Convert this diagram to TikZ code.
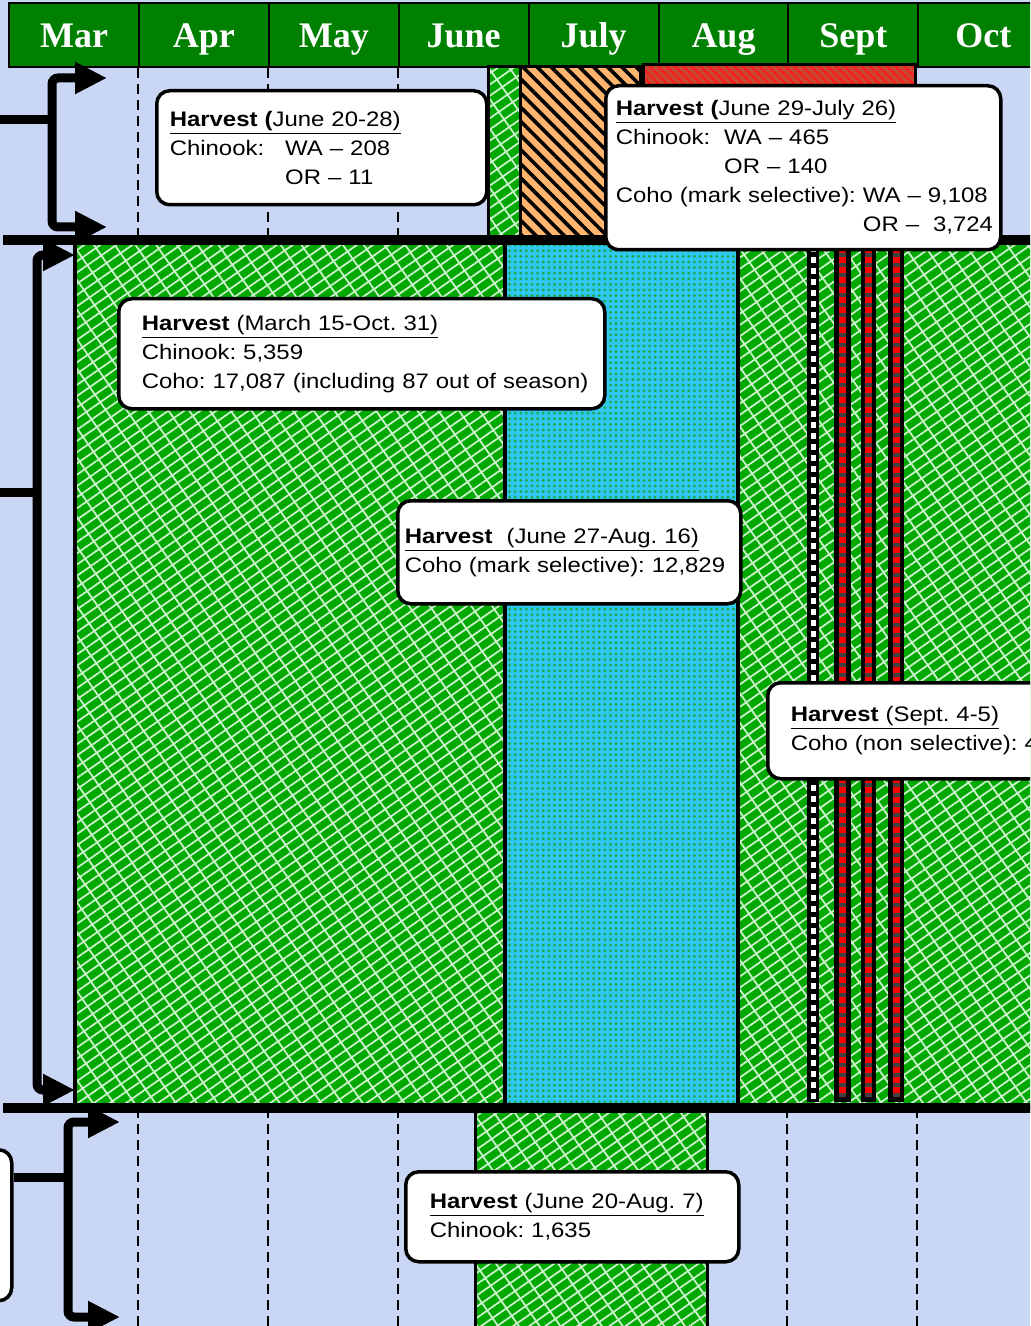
\documentclass[tikz,border=0pt]{standalone}
\usepackage{fontspec}
\setmainfont{Liberation Sans}[FakeStretch=1.14]
\newfontfamily\monthfont{Liberation Serif}
\usepackage{tikz}
\usetikzlibrary{arrows.meta,positioning,patterns.meta}
\definecolor{bgsky}{HTML}{C9D6F4}
\definecolor{hdrgreen}{HTML}{008000}
\definecolor{hgreen}{HTML}{00A800}
\definecolor{hgreenlt}{HTML}{CCF2CC}
\definecolor{hcyan}{HTML}{2EC8F2}
\definecolor{hcyandot}{HTML}{1FA84A}
\definecolor{horange}{HTML}{FFB56E}
\definecolor{hred}{HTML}{C84632}
\definecolor{hredln}{HTML}{FF1A1A}
\definecolor{hgrey}{HTML}{404040}
\newcommand{\boxfont}{\fontsize{10.5}{14.5}\selectfont\frenchspacing}
\newcommand{\hdrfont}{\monthfont\bfseries\fontsize{18}{20}\selectfont}
\newcommand{\harvline}[2]{\underline{\textbf{#1}#2}}   % #1 = bold part, #2 = dates
\tikzset{
  monthcell/.style  = {draw=black, line width=1pt, fill=hdrgreen, text=white,
                       font=\hdrfont, minimum width=64.95pt, minimum height=32pt,
                       inner sep=0pt, text height=13pt, text depth=0pt},
  gridln/.style     = {draw=black, line width=1pt, dash pattern=on 5pt off 3pt},
  hatchgreen/.style = {fill=hgreen,
                       postaction={pattern={Lines[angle=35, distance=4.6pt, line width=0.9pt]},
                                   pattern color=hgreenlt},
                       postaction={pattern={Lines[angle=-55, distance=8.5pt, line width=0.9pt]},
                                   pattern color=hgreenlt}},
  dotcyan/.style    = {fill=hcyan,
                       postaction={pattern={Dots[distance=2.8pt, radius=0.8pt]},
                                   pattern color=hcyandot}},
  stripeorange/.style = {fill=horange,
                       postaction={pattern={Lines[angle=-45, distance=5pt, line width=1.8pt]},
                                   pattern color=black}},
  stripered/.style  = {fill=hred,
                       postaction={pattern={Lines[angle=-45, distance=3pt, line width=1pt]},
                                   pattern color=hredln}},
  barout/.style     = {postaction={draw=black, line width=#1}},
  barout/.default   = 1.5pt,
  divline/.style    = {draw=black, line width=4.75pt},
  brk/.style        = {draw=black, line width=4.5pt, rounded corners=3pt},
  brkarr/.style     = {brk, {Triangle[length=16pt, width=15pt]}-{Triangle[length=16pt, width=15pt]}},
  hbox/.style       = {draw=black, line width=1.75pt, rounded corners=6.5pt, fill=white,
                       anchor=north west, align=left, inner ysep=0pt, font=\boxfont},
}

\begin{document}
\begin{tikzpicture}[x=0.5pt,y=-0.5pt]
  \useasboundingbox (0,0) rectangle (1030,1326);
  \clip (0,0) rectangle (1030,1326);
  \fill[bgsky] (0,0) rectangle (1030,1326);
  \coordinate (div1) at (3,240);
  \coordinate (div2) at (3,1108);
  \coordinate (foot) at (3,1326);
  % month header
  \foreach \m [count=\i from 0] in {Mar,Apr,May,June,July,Aug,Sept,Oct}
    \node[monthcell] (m\i) at ({74+129.9*\i},35) {\m};
  \foreach \i in {1,2,3}
    \draw[gridln] (m\i.south west) -- (m\i.south west |- div1);
  \foreach \i in {1,...,7}
    \draw[gridln] (m\i.south west |- div2) -- (m\i.south west |- foot);
  % row 1
  \path[hatchgreen, barout]   (488,67) rectangle (520,240);
  \path[stripeorange, barout] (520,67) rectangle (640,240);
  \path[stripered, barout]    (643,65) rectangle (915,240);
  % row 2
  \path[hatchgreen, barout=2pt] (75,240)  rectangle (505,1108);
  \path[dotcyan, barout=2pt]    (505,240) rectangle (738,1108);
  \path[hatchgreen, barout=2pt] (738,240) rectangle (1060,1108);
  \fill[black] (807,244) rectangle (819,1102);
  \draw[white, line width=2.5pt, dash pattern=on 3pt off 2.5pt] (813.5,246) -- (813.5,1100);
  \foreach \xa/\xb in {834/851, 861/876, 888/904}{
    \fill[black] (\xa,244) rectangle (\xb,1102);
    \draw[hgrey, line width=3.5pt] ({(\xa+\xb)/2},247) -- ({(\xa+\xb)/2},1097);
    \draw[red, line width=3.5pt, dash pattern=on 3pt off 2pt] ({(\xa+\xb)/2},247) -- ({(\xa+\xb)/2},1097);
  }
  % row 3
  \path[hatchgreen, barout] (475,1108) rectangle (707,1345);
  \draw[divline] (div1) -- ++(1060,0);
  \draw[divline] (div2) -- ++(1060,0);
  % brackets
  \node[hbox, minimum width=60pt, minimum height=75.5pt] (lbox) at (-110,1148) {};
  \coordinate (r1in)  at (-5,120);
  \coordinate (r1top) at (107,78);
  \coordinate (r1bot) at (107,227);
  \coordinate (r1sp)  at (52,227);
  \coordinate (r2in)  at (-5,492);
  \coordinate (r2top) at (75,255);
  \coordinate (r2bot) at (75,1090);
  \coordinate (r2sp)  at (37,1090);
  \coordinate (r3in)  at (lbox.north east |- 0,1177);
  \coordinate (r3top) at (120,1122);
  \coordinate (r3bot) at (120,1317);
  \coordinate (r3sp)  at (68,1317);
  \foreach \r in {1,2,3}{
    \draw[brkarr] (r\r top) -| (r\r sp) -- (r\r bot);
    \draw[brk] (r\r in) -- (r\r in -| r\r sp);
  }
  % harvest boxes
  \node[hbox, minimum width=165pt, minimum height=57pt, text width=152pt, inner xsep=6.5pt]
    (hvchin1) at (155,89)
    {\harvline{Harvest (}{June 20-28)}\\
     Chinook:\hspace{10.5pt}WA – 208\\
     \phantom{Chinook:\hspace{10.5pt}}OR – 11};
  \node[hbox, minimum width=197.5pt, minimum height=82pt, text width=187.5pt, inner xsep=5pt]
    (hvmix1) at (604,84)
    {\harvline{Harvest (}{June 29-July 26)}\\
     Chinook:\hspace{7pt}WA – 465\\
     \phantom{Chinook:\hspace{7pt}}OR – 140\\
     \mbox{Coho (mark selective): WA – 9,108}\\
     \mbox{\phantom{Coho (mark selective): }OR –~~3,724}};
  \node[hbox, minimum width=243pt, minimum height=55pt, text width=220pt, inner xsep=11.5pt]
    (hvrec2) at (117,297)
    {\harvline{Harvest}{ (March 15-Oct. 31)}\\
     Chinook: 5,359\\
     \mbox{Coho: 17,087 (including 87 out of season)}};
  \node[hbox, minimum width=171.5pt, minimum height=51.5pt, text width=164.5pt, inner xsep=3.5pt]
    (hvcoho2) at (396,499)
    {\harvline{Harvest}{~~(June 27-Aug. 16)}\\
     \mbox{Coho (mark selective): 12,829}};
  \node[hbox, minimum width=167pt, minimum height=48pt, text width=144pt, inner xsep=11.5pt]
    (hvsept2) at (766,681)
    {\harvline{Harvest}{ (Sept. 4-5)}\\
     \mbox{Coho (non selective): 4}};
  \node[hbox, minimum width=166.5pt, minimum height=45pt, text width=142.5pt, inner xsep=12pt]
    (hvchin3) at (404,1170)
    {\harvline{Harvest}{ (June 20-Aug. 7)}\\
     Chinook: 1,635};
\end{tikzpicture}
\end{document}
